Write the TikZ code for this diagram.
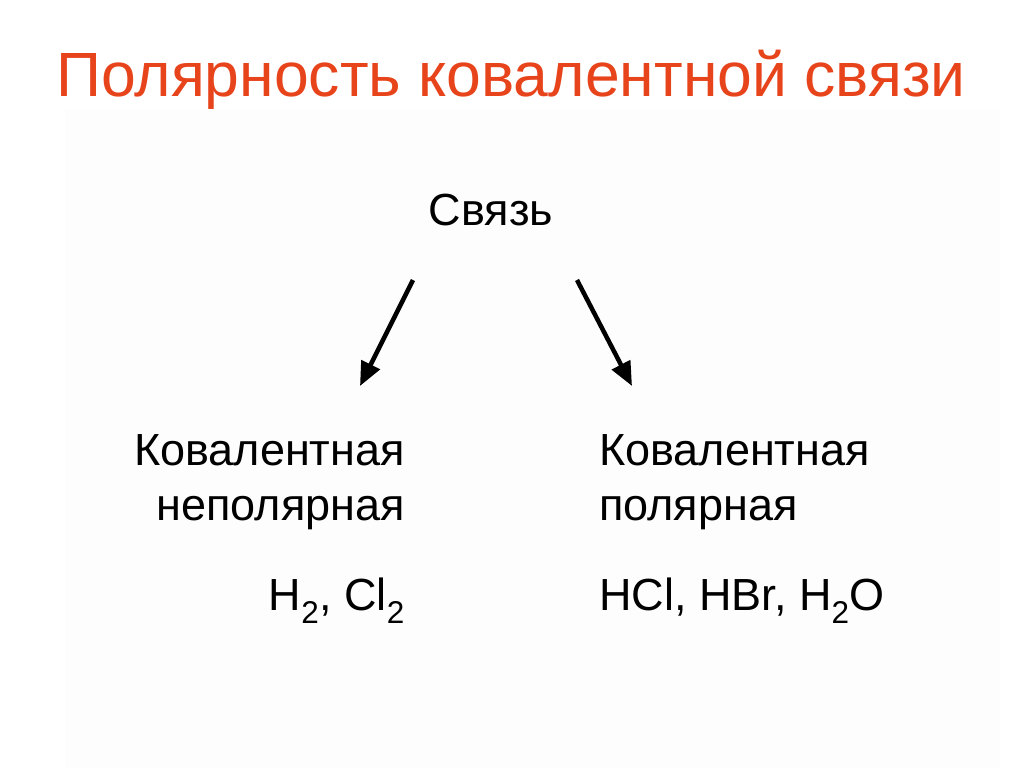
\documentclass[tikz,border=0pt]{standalone}
\usepackage{fontspec}
\setmainfont{Liberation Sans}
\usetikzlibrary{arrows.meta}
\definecolor{titlered}{RGB}{232,68,28}
\definecolor{panel}{RGB}{254,253,253}
\tikzset{
  body/.style={inner sep=0pt, font=\fontsize{45}{52}\selectfont, text=black},
  link/.style={line width=4.5pt, -{Triangle[length=24pt,width=20pt]}}
}
\begin{document}
\begin{tikzpicture}[x=1pt,y=-1pt]
\useasboundingbox (0,0) rectangle (1024,768);
\fill[white] (0,0) rectangle (1024,768);
\fill[panel] (65,110) rectangle (1000,768);
\node[anchor=base, inner sep=0pt, text=titlered, font=\fontsize{62.5}{66}\selectfont] (title) at (511,96) {Полярность ковалентной связи};
\node[body, anchor=base] (svyaz) at (491,225) {Связь};
\node[body, anchor=base east] (lk) at (405,465) {Ковалентная};
\node[body, anchor=base east] (ln) at (405,520) {неполярная};
\node[body, anchor=base east] (lf) at (405,610) {H\textsubscript{2}, Cl\textsubscript{2}};
\node[body, anchor=base west] (rk) at (599,465) {Ковалентная};
\node[body, anchor=base west] (rn) at (599,520) {полярная};
\node[body, anchor=base west] (rf) at (599,610) {HCl, HBr, H\textsubscript{2}O};
\coordinate (ls) at (413,280);
\coordinate (le) at (360,386);
\coordinate (rs) at (577,280);
\coordinate (re) at (632,386);
\draw[link] (ls) -- (le);
\draw[link] (rs) -- (re);
\end{tikzpicture}
\end{document}
